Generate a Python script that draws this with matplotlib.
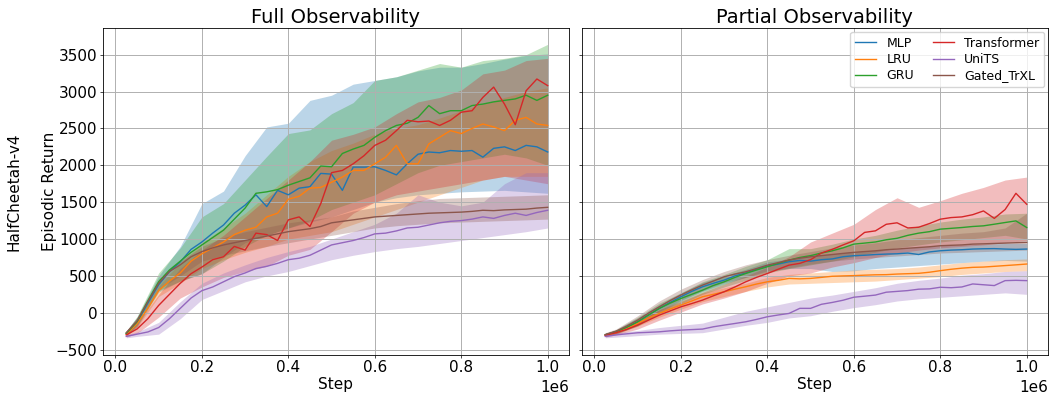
import matplotlib
matplotlib.use("Agg")
import matplotlib.pyplot as plt

# steps in units of 1e6; means are read on a finer grid than the bands
mean_steps = [0.025 * k for k in range(1, 41)]
band_steps = [0.025, 0.05, 0.10, 0.15, 0.20, 0.25, 0.30, 0.35, 0.40, 0.45, 0.50,
              0.55, 0.60, 0.65, 0.70, 0.75, 0.80, 0.85, 0.90, 0.95, 1.00]

methods = ["MLP", "LRU", "GRU", "Transformer", "UniTS", "Gated_TrXL"]
colors = ["tab:blue", "tab:orange", "tab:green", "tab:red", "tab:purple", "tab:brown"]

# ---- full observability ----
full_mean = {
  "MLP": [-280, -130, 130, 380, 560, 690, 860, 960, 1080, 1190, 1350, 1460, 1600, 1440, 1660, 1600, 1690, 1710, 1890, 1880,
          1660, 1975, 1975, 1980, 1930, 1870, 2020, 2150, 2180, 2170, 2200, 2190, 2200, 2110, 2230, 2250, 2200, 2270, 2250, 2180],
  "LRU": [-290, -150, 60, 300, 430, 540, 700, 800, 880, 960, 1060, 1120, 1160, 1300, 1350, 1540, 1580, 1690, 1700, 1770,
          1840, 1930, 1930, 2020, 2110, 2270, 2020, 2020, 2290, 2380, 2470, 2430, 2500, 2560, 2520, 2470, 2610, 2650, 2560, 2540],
  "GRU": [-280, -120, 160, 420, 580, 700, 820, 920, 1020, 1120, 1270, 1420, 1620, 1640, 1670, 1730, 1780, 1830, 1990, 1980,
          2160, 2220, 2270, 2380, 2470, 2540, 2570, 2650, 2810, 2700, 2740, 2740, 2810, 2830, 2860, 2880, 2900, 2950, 2880, 2950],
  "Transformer": [-300, -220, -80, 100, 250, 400, 530, 620, 720, 760, 900, 850, 1080, 1060, 980, 1260, 1300, 1170, 1480, 1900,
                  1930, 2020, 2130, 2270, 2340, 2470, 2610, 2590, 2600, 2540, 2610, 2720, 2740, 2920, 3060, 2830, 2550, 3010, 3170, 3080],
  "UniTS": [-320, -290, -260, -200, -80, 60, 200, 300, 350, 420, 490, 540, 600, 630, 670, 720, 740, 780, 850, 920,
            950, 980, 1020, 1070, 1080, 1110, 1150, 1160, 1190, 1220, 1240, 1250, 1270, 1300, 1280, 1320, 1350, 1320, 1360, 1390],
  "Gated_TrXL": [-270, -110, 150, 400, 560, 650, 760, 830, 880, 920, 950, 980, 1010, 1040, 1070, 1100, 1120, 1140, 1170, 1220,
                 1240, 1260, 1280, 1300, 1310, 1320, 1330, 1340, 1350, 1355, 1360, 1365, 1375, 1390, 1385, 1395, 1400, 1405, 1420, 1430],
}
full_hi = {
  "MLP": [-250, -60, 500, 900, 1480, 1650, 2130, 2520, 2570, 2880, 2950, 3100, 3150, 3200, 3280, 3330, 3330, 3380, 3440, 3490, 3510],
  "LRU": [-270, -100, 360, 680, 950, 1150, 1350, 1600, 1850, 2050, 2200, 2300, 2420, 2500, 2550, 2640, 2740, 2830, 2920, 3000, 3050],
  "GRU": [-250, -50, 540, 880, 1300, 1480, 1800, 2120, 2430, 2480, 2700, 2850, 3150, 3200, 3290, 3380, 3330, 3420, 3450, 3500, 3640],
  "Transformer": [-270, -150, 250, 600, 850, 1050, 1300, 1550, 1800, 2050, 2340, 2420, 2520, 2700, 2860, 2920, 3020, 3240, 3290, 3420, 3450],
  "UniTS": [-300, -260, -130, 150, 400, 540, 650, 750, 830, 900, 1000, 1100, 1200, 1350, 1600, 1500, 1450, 1500, 1750, 1900, 1900],
  "Gated_TrXL": [-250, -60, 460, 700, 900, 1020, 1100, 1160, 1220, 1260, 1300, 1380, 1430, 1480, 1520, 1550, 1560, 1570, 1580, 1590, 1600],
}
full_lo = {
  "MLP": [-310, -190, 280, 430, 530, 750, 950, 1050, 1150, 1230, 1300, 1400, 1500, 1560, 1600, 1620, 1640, 1650, 1660, 1640, 1620],
  "LRU": [-320, -200, 220, 400, 600, 720, 820, 900, 1000, 1050, 1100, 1200, 1300, 1400, 1500, 1600, 1700, 1800, 1850, 1850, 1850],
  "GRU": [-310, -180, 300, 430, 530, 700, 900, 1050, 1150, 1250, 1400, 1500, 1600, 1750, 1900, 2000, 2050, 2100, 2150, 2100, 2000],
  "Transformer": [-330, -280, -60, 200, 350, 480, 560, 630, 780, 860, 1100, 1350, 1500, 1600, 1650, 1700, 1750, 1800, 1850, 1800, 1750],
  "UniTS": [-340, -320, -290, -80, 180, 300, 420, 500, 560, 640, 720, 780, 830, 870, 900, 940, 980, 1020, 1060, 1100, 1150],
  "Gated_TrXL": [-290, -160, 320, 500, 700, 780, 840, 900, 950, 1000, 1050, 1100, 1150, 1180, 1200, 1220, 1230, 1240, 1250, 1260, 1270],
}

# ---- partial observability ----
part_mean = {
  "MLP": [-300, -258, -200, -122, -30, 60, 140, 217, 290, 353, 400, 443, 500, 540, 590, 633, 660, 692, 710, 700,
          720, 730, 760, 774, 780, 790, 796, 800, 810, 790, 825, 841, 850, 855, 864, 868, 870, 864, 860, 864],
  "LRU": [-305, -270, -215, -145, -70, -9, 50, 104, 160, 217, 250, 285, 320, 353, 390, 420, 440, 466, 460, 466,
          480, 495, 500, 504, 510, 515, 517, 525, 530, 535, 550, 571, 590, 605, 616, 620, 630, 640, 650, 661],
  "GRU": [-300, -255, -195, -122, -30, 59, 130, 194, 250, 307, 370, 420, 480, 533, 580, 624, 670, 714, 750, 775,
          810, 840, 880, 931, 945, 960, 990, 1010, 1050, 1080, 1100, 1134, 1145, 1156, 1170, 1179, 1201, 1224, 1246, 1156],
  "Transformer": [-305, -270, -225, -167, -100, -32, 25, 81, 125, 172, 230, 285, 350, 420, 480, 533, 590, 646, 670, 720,
                  810, 860, 920, 976, 1090, 1111, 1200, 1220, 1150, 1160, 1210, 1269, 1291, 1300, 1330, 1381, 1280, 1400, 1620, 1471],
  "UniTS": [-320, -300, -285, -271, -265, -258, -245, -235, -228, -221, -190, -167, -145, -122, -90, -54, -30, -9, 60, 60,
            115, 140, 170, 211, 225, 240, 279, 290, 301, 320, 324, 346, 340, 350, 391, 380, 369, 436, 440, 436],
  "Gated_TrXL": [-295, -250, -180, -100, -5, 81, 165, 240, 310, 375, 430, 488, 525, 556, 600, 646, 680, 714, 740, 760,
                 775, 790, 805, 819, 830, 840, 855, 864, 875, 885, 895, 909, 915, 920, 931, 935, 940, 945, 950, 954],
}
part_hi = {
  "MLP": [-280, -230, -70, 110, 270, 410, 500, 590, 690, 730, 780, 800, 830, 850, 870, 890, 910, 920, 930, 940, 940],
  "LRU": [-290, -250, -110, 40, 150, 270, 340, 400, 480, 520, 540, 560, 580, 590, 600, 620, 650, 680, 700, 720, 730],
  "GRU": [-280, -230, -60, 130, 270, 420, 520, 630, 720, 870, 870, 930, 1000, 1050, 1120, 1180, 1230, 1270, 1300, 1340, 1350],
  "Transformer": [-280, -240, -120, 40, 160, 280, 390, 500, 620, 760, 960, 1080, 1200, 1400, 1560, 1430, 1520, 1620, 1700, 1800, 1840],
  "UniTS": [-300, -270, -240, -200, -170, -140, -60, 20, 80, 140, 200, 240, 290, 340, 400, 440, 470, 510, 530, 560, 570],
  "Gated_TrXL": [-270, -220, -40, 160, 320, 450, 560, 650, 720, 780, 830, 880, 920, 950, 990, 1020, 1050, 1080, 1100, 1150, 1350],
}
part_lo = {
  "MLP": [-320, -290, -170, 0, 160, 290, 390, 480, 570, 600, 600, 560, 570, 600, 620, 640, 660, 680, 700, 710, 700],
  "LRU": [-320, -290, -180, -60, 50, 150, 220, 290, 350, 390, 400, 410, 420, 430, 450, 470, 490, 520, 540, 560, 570],
  "GRU": [-320, -280, -180, -10, 120, 250, 350, 440, 540, 600, 650, 700, 760, 820, 880, 920, 960, 990, 1020, 1050, 1000],
  "Transformer": [-330, -300, -220, -100, 10, 120, 200, 290, 400, 500, 540, 620, 680, 750, 810, 850, 880, 900, 920, 950, 980],
  "UniTS": [-340, -330, -310, -290, -280, -270, -220, -170, -130, -70, -40, 20, 70, 110, 160, 190, 210, 230, 250, 270, 250],
  "Gated_TrXL": [-320, -280, -160, 20, 170, 300, 410, 480, 550, 610, 660, 700, 730, 750, 770, 790, 810, 820, 830, 840, 850],
}

xm = [s * 1e6 for s in mean_steps]
xb = [s * 1e6 for s in band_steps]

fig, axes = plt.subplots(1, 2, figsize=(10.5, 3.96), dpi=100, sharey=True)
plt.subplots_adjust(left=0.098, right=0.998, top=0.929, bottom=0.104, wspace=0.028)

panels = [(axes[0], "Full Observability", full_mean, full_hi, full_lo),
          (axes[1], "Partial Observability", part_mean, part_hi, part_lo)]

for ax, title, mean, hi, lo in panels:
  for name, c in zip(methods, colors):
    ax.fill_between(xb, lo[name], hi[name], color=c, alpha=0.3, linewidth=0)
    ax.plot(xm, mean[name], color=c, linewidth=1.0, label=name)
  ax.set_title(title, fontsize=14, pad=4)
  ax.set_xlabel("Step", fontsize=11, labelpad=1)
  ax.grid(True, linewidth=0.7)
  ax.tick_params(labelsize=11, length=2, width=0.5, pad=2)
  ax.xaxis.get_offset_text().set_fontsize(11)
  for sp in ax.spines.values():
    sp.set_linewidth(0.6)
  ax.set_xlim(-0.029e6, 1.049e6)

axes[0].set_ylim(-570, 3860)
axes[1].legend(loc="upper right", ncol=2, fontsize=9, handlelength=1.7,
               columnspacing=1.5, borderaxespad=0.3, labelspacing=0.25)

fig.text(0.047, 0.516, "Episodic Return", rotation=90, va="center", ha="center", fontsize=11)
fig.text(0.013, 0.516, "HalfCheetah-v4", rotation=90, va="center", ha="center", fontsize=11)

fig.savefig("out.png", dpi=100)
